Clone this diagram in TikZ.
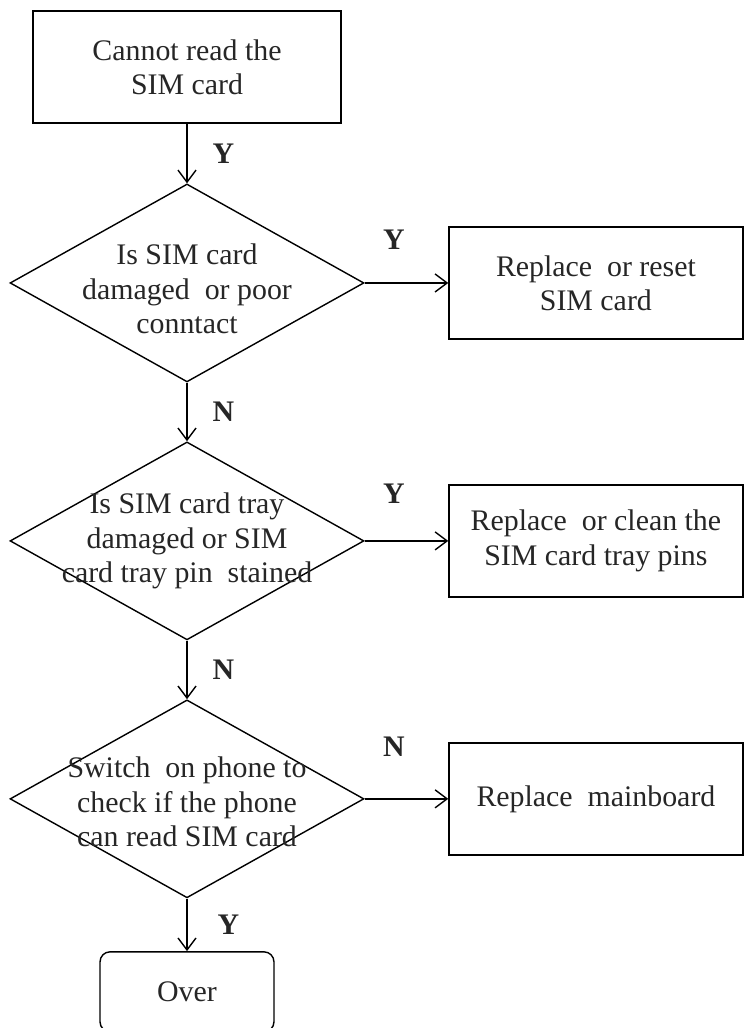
\documentclass[tikz,border=0pt]{standalone}
\usepackage{fontspec}
\setmainfont{Liberation Serif}
\usetikzlibrary{positioning, shapes.geometric, arrows.meta}

\begin{document}
\begin{tikzpicture}[x=0.02cm,y=-0.02cm,on grid,
    >={Straight Barb[length=2.4mm,width=3.6mm]},
    every node/.style={font=\fontsize{17}{19.5}\selectfont,text=black!85},
    box/.style={draw,line width=0.8pt,rectangle,minimum width=5.88cm,minimum height=2.24cm,align=center,inner sep=0pt},
    startbox/.style={box,minimum width=6.16cm},
    overbox/.style={box,rounded corners=0.2cm,minimum width=3.48cm,minimum height=1.6cm},
    decision/.style={draw,line width=0.8pt,diamond,minimum width=7.08cm,minimum height=3.96cm,inner sep=0pt},
    yn/.style={font=\fontsize{17}{19.5}\selectfont\bfseries,inner sep=0pt}]
    \useasboundingbox (0,0) rectangle (744,1028);
    \clip (0,0) rectangle (744,1028);

        \node[startbox] (start) at (187,67) {Cannot read the\\SIM card};
        \node[decision,label={[align=center,yshift=-0.12cm]center:{Is SIM card\\damaged\ \ or poor\\conntact}}] (d_1) [below=4.32cm of start] {};
        \node[decision,label={[align=center]center:{Is SIM card tray\\damaged or SIM\\card tray pin\ \ stained}}] (d_2) [below=5.16cm of d_1] {};
        \node[decision,label={[align=center,yshift=-0.06cm]center:{Switch\ \ on phone to\\check if the phone\\can read SIM card}}] (d_3) [below=5.16cm of d_2] {};
        \node[overbox] (over) [below=3.86cm of d_3] {Over};
        \node[box] (b_1) [right=8.18cm of d_1] {Replace\ \ or reset\\SIM card};
        \node[box] (b_2) [right=8.18cm of d_2] {Replace\ \ or clean the\\SIM card tray pins};
        \node[box] (b_3) [right=8.18cm of d_3] {Replace\ \ mainboard};

        \path[->,line width=0.8pt]
        (start) edge node[yn,right=0.5cm]{Y} (d_1)
        (d_1) edge node[yn,right=0.5cm]{N} (d_2)
        (d_2) edge node[yn,right=0.5cm]{N} (d_3)
        (d_3) edge node[yn,right=0.6cm]{Y} (over)
        (d_1) edge node[yn,above=0.66cm,pos=0.35]{Y} (b_1)
        (d_2) edge node[yn,above=0.74cm,pos=0.35]{Y} (b_2)
        (d_3) edge node[yn,above=0.84cm,pos=0.35]{N} (b_3)
        ;

\end{tikzpicture}
\end{document}
